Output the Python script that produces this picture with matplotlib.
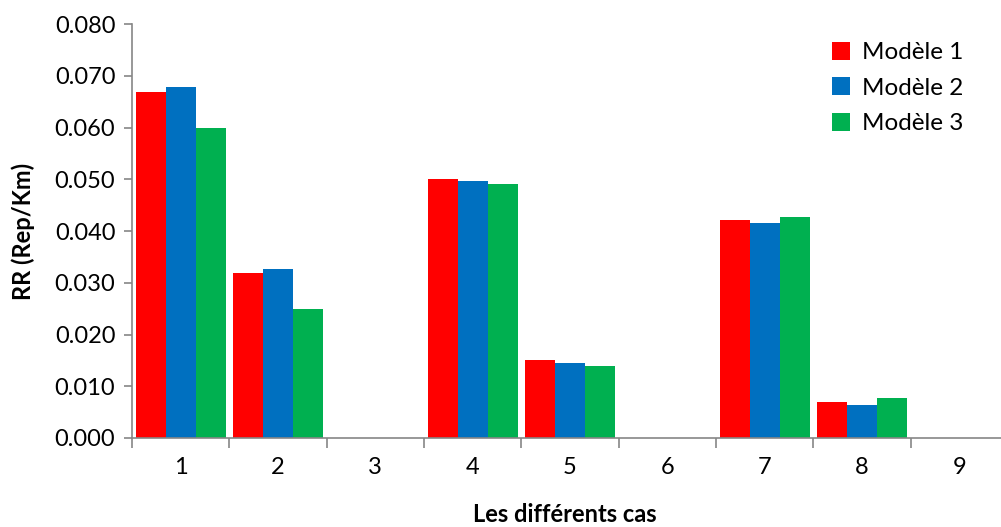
import matplotlib
matplotlib.use("Agg")
import matplotlib.pyplot as plt
import numpy as np
from matplotlib.patches import Patch
from matplotlib.ticker import FixedLocator, FuncFormatter

plt.rcParams['font.family'] = ['Lato', 'DejaVu Sans']

cases = ["1", "2", "3", "4", "5", "6", "7", "8", "9"]
series_names = ["Modèle 1", "Modèle 2", "Modèle 3"]
modele1 = [0.0669, 0.0318, 0.0, 0.0500, 0.0150, 0.0, 0.0421, 0.0070, 0.0]
modele2 = [0.0678, 0.0327, 0.0, 0.0496, 0.0145, 0.0, 0.0415, 0.0064, 0.0]
modele3 = [0.0600, 0.0250, 0.0, 0.0490, 0.0139, 0.0, 0.0428, 0.0077, 0.0]
colors = ["#FF0000", "#0070C0", "#00B050"]
y_ticks = [0.0, 0.01, 0.02, 0.03, 0.04, 0.05, 0.06, 0.07, 0.08]

W, H = 1001, 527
fig = plt.figure(figsize=(W / 100, H / 100), dpi=100)
ax = fig.add_axes([132 / W, (H - 438) / H, (1008 - 132) / W, (438 - 24) / H])

x = np.arange(len(cases))
bw = 0.308
for k, (vals, c) in enumerate(zip([modele1, modele2, modele3], colors)):
    ax.bar(x + (k - 1) * bw, vals, width=bw, color=c, linewidth=0, zorder=2)

axis_grey = "#868686"
ax.set_xlim(-0.5, len(cases) - 0.5)
ax.set_ylim(0, 0.08)
for s in ["top", "right"]:
    ax.spines[s].set_visible(False)
for s in ["left", "bottom"]:
    ax.spines[s].set_color(axis_grey)
    ax.spines[s].set_linewidth(1.2)

ax.yaxis.set_major_locator(FixedLocator(y_ticks))
ax.yaxis.set_major_formatter(FuncFormatter(lambda v, p: f"{v:.3f}"))
ax.tick_params(axis="y", length=6, width=1.2, color=axis_grey, labelsize=17, pad=6)

ax.set_xticks(x)
ax.set_xticklabels(cases)
ax.set_xticks(np.arange(-0.5, len(cases), 1.0), minor=True)
ax.tick_params(axis="x", which="major", length=0, labelsize=17, pad=14)
ax.tick_params(axis="x", which="minor", length=7, width=1.2, color=axis_grey)

ax.set_ylabel("RR (Rep/Km)", fontsize=17, fontweight="bold", labelpad=14)
fig.text(565 / W, 1 - 515 / H, "Les différents cas", fontsize=17,
         fontweight="bold", ha="center", va="center")

handles = [Patch(facecolor=c, edgecolor="none") for c in colors]
ax.legend(handles, series_names, loc="upper left",
          bbox_to_anchor=(832 / W, 1 - 42 / H), bbox_transform=fig.transFigure,
          frameon=False, fontsize=17.5, handlelength=0.75, handleheight=0.75,
          handletextpad=0.5, labelspacing=0.58, borderpad=0, borderaxespad=0)

fig.savefig("out.png", dpi=100)
